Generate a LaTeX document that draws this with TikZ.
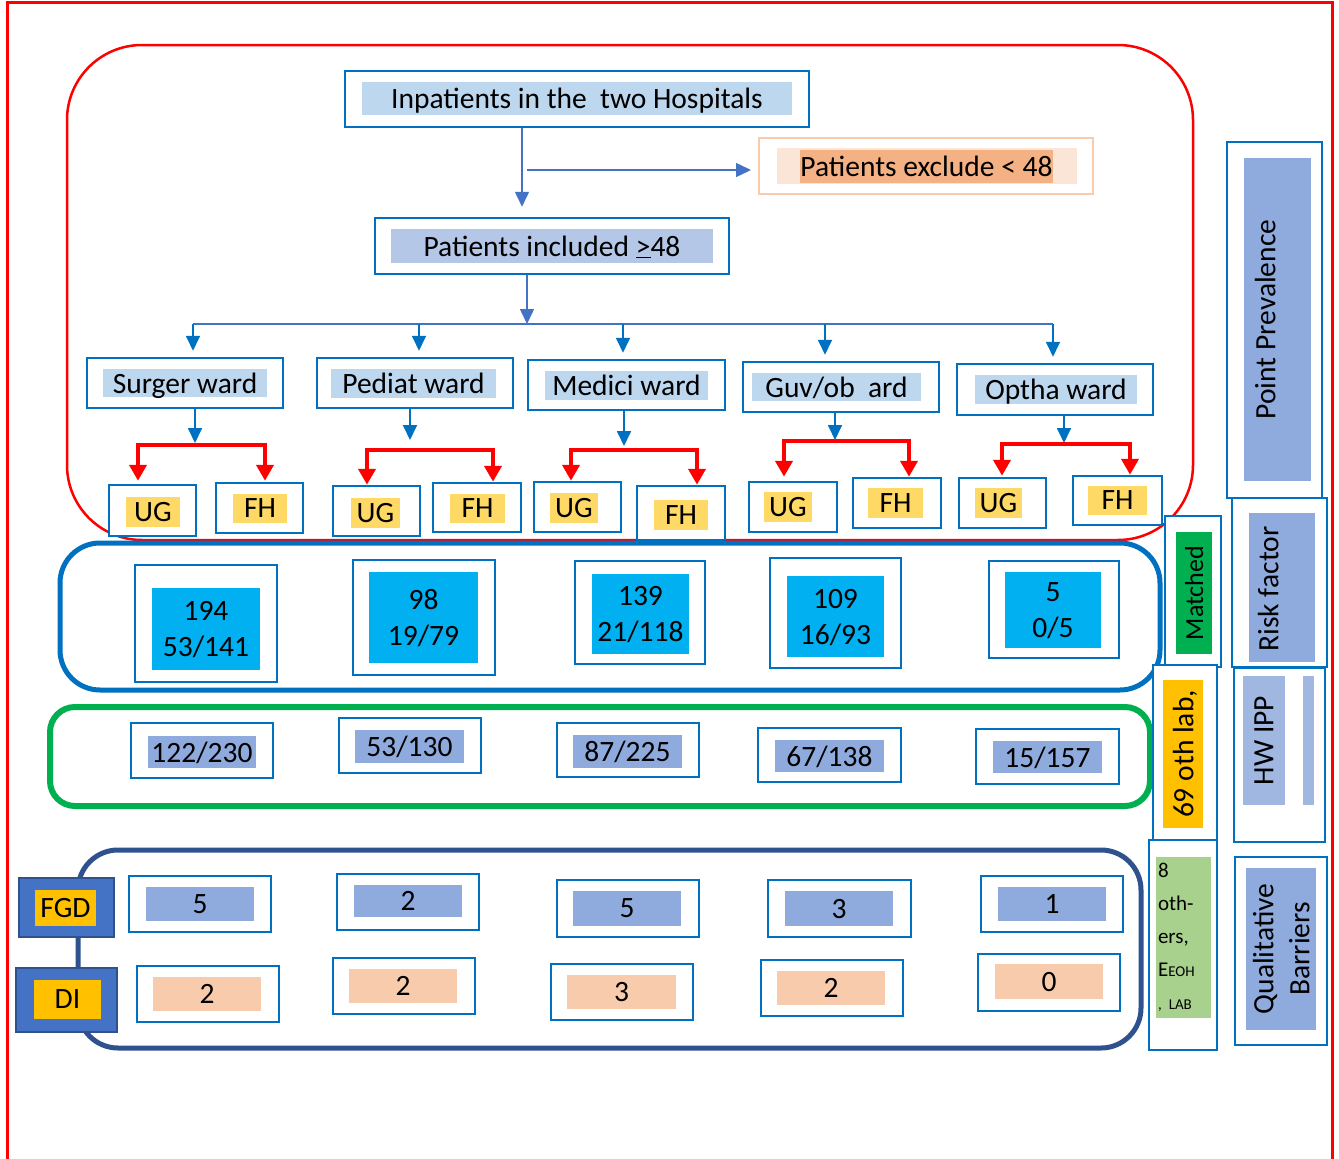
\documentclass[tikz,border=0pt]{standalone}
\usepackage{fontspec}
\setmainfont{Carlito}
\usetikzlibrary{arrows.meta}
\definecolor{boxblue}{RGB}{0,112,192}
\definecolor{arrblue}{RGB}{68,114,196}
\definecolor{lightblue}{RGB}{189,215,238}
\definecolor{midblue}{RGB}{180,199,231}
\definecolor{greyblue}{RGB}{143,170,220}
\definecolor{cyanfill}{RGB}{0,176,240}
\definecolor{gold}{RGB}{255,217,102}
\definecolor{amber}{RGB}{255,192,0}
\definecolor{peach}{RGB}{248,203,173}
\definecolor{palepeach}{RGB}{251,229,214}
\definecolor{orangehl}{RGB}{244,177,131}
\definecolor{matchgreen}{RGB}{0,176,80}
\definecolor{sage}{RGB}{169,209,142}
\definecolor{darknavy}{RGB}{47,82,143}

\begin{document}
\begin{tikzpicture}
[every node/.style={inner sep=0pt, text depth=0pt, font=\fontsize{29.5}{36}\selectfont},
 frame/.style={draw=boxblue, line width=2.5pt, fill=white},
 arr/.style={line width=1.5pt, draw=arrblue, -{Triangle[width=14pt,length=15pt]}},
 drop/.style={line width=1.8pt, draw=boxblue, -{Triangle[width=14pt,length=15pt]}},
 redarr/.style={line width=4pt, draw=red, -{Triangle[width=17pt,length=16pt]}},
 cellfill/.style={fill=greyblue},
 cellpeach/.style={fill=peach}]
\useasboundingbox (0pt, 0pt) rectangle (1339pt, -1159pt);
\fill [white] (0pt, 0pt) rectangle (1339pt, -1159pt);
% frames round the groups
\draw [red, line width=3pt] (7pt, -1159pt) -- (7pt, -2pt) -- (1332pt, -2pt) -- (1332pt, -1159pt);
\draw [red, line width=2.5pt, rounded corners=75pt] (67pt, -45pt) rectangle (1193pt, -540pt);
\draw [boxblue, line width=5pt, rounded corners=40pt] (60pt, -543pt) rectangle (1160pt, -690pt);
\draw [matchgreen, line width=6pt, rounded corners=25pt] (50pt, -707pt) rectangle (1150pt, -806pt);
\draw [darknavy, line width=5pt, rounded corners=40pt] (78pt, -850pt) rectangle (1141pt, -1048pt);

% top of the flow
\node (hosp) [frame, minimum width=464pt, minimum height=56pt] at (577pt, -99pt) {};
\node (hospfill) [fill=lightblue, minimum width=430pt, minimum height=33pt] at (577pt, -98.5pt) {Inpatients in the\ \ two Hospitals};
\node (excl) [draw=peach, line width=2pt, fill=white, minimum width=334pt, minimum height=56pt] at (926pt, -166pt) {};
\node (exclpale) [fill=palepeach, minimum width=300pt, minimum height=36pt] at (927pt, -166pt) {};
\node (excltext) [fill=orangehl, minimum width=253pt, minimum height=33pt] at (926.5pt, -166.5pt) {Patients exclude < 48};
\node (incl) [frame, minimum width=354pt, minimum height=56pt] at (552pt, -246pt) {};
\node (inclfill) [fill=midblue, minimum width=322pt, minimum height=34pt] at (552pt, -246pt) {Patients included \underline{>}48};
\coordinate (excljoin) at (527pt, -170pt);
\coordinate (split) at (527pt, -324pt);
\draw [arr] ([xshift=-55pt]hosp.south) to ([xshift=-30pt, yshift=10pt]incl.north);
\draw [arr, shorten >=7pt] (excljoin) to (excljoin -| excl.west);
\draw [arr] ([xshift=-25pt]incl.south) to (split);

% wards
\node (surg) [frame, minimum width=196pt, minimum height=50pt] at (185pt, -383pt) {};
\node (surgfill) [fill=lightblue, minimum width=164pt, minimum height=28pt] at (185pt, -383pt) {Surger ward};
\node (ped) [frame, minimum width=196pt, minimum height=50pt] at (415pt, -383pt) {};
\node (pedfill) [fill=lightblue, minimum width=165pt, minimum height=29pt] at (413.5pt, -383.5pt) {Pediat ward};
\node (med) [frame, minimum width=197pt, minimum height=50pt] at (626.5pt, -385pt) {};
\node (medfill) [fill=lightblue, minimum width=163pt, minimum height=29pt] at (626.5pt, -385.5pt) {Medici ward};
\node (guv) [frame, minimum width=196pt, minimum height=50pt] at (841pt, -387pt) {};
\node (guvfill) [fill=lightblue, minimum width=169pt, minimum height=28pt] at (836.5pt, -387pt) {Guv/ob\ \ ard};
\node (opt) [frame, minimum width=196pt, minimum height=51pt] at (1055pt, -389.5pt) {};
\node (optfill) [fill=lightblue, minimum width=162pt, minimum height=29pt] at (1056pt, -389.5pt) {Optha ward};
\coordinate (barsurg) at (193pt, -324pt);
\coordinate (barped) at (419pt, -324pt);
\coordinate (barmed) at (623pt, -324pt);
\coordinate (barguv) at (825pt, -324pt);
\coordinate (baropt) at (1053pt, -324pt);
\draw [line width=1.5pt, draw=arrblue] (barsurg) to (baropt);
\draw [drop, shorten >=6pt] (barsurg) to (barsurg |- surg.north);
\draw [drop, shorten >=6pt] (barped) to (barped |- ped.north);
\draw [drop, shorten >=6pt] (barmed) to (barmed |- med.north);
\draw [drop, shorten >=6pt] (barguv) to (barguv |- guv.north);
\draw [drop, shorten >=6pt] (baropt) to (baropt |- opt.north);

% UG and FH
\node (surgug) [frame, minimum width=87pt, minimum height=51pt] at (152.5pt, -510.5pt) {};
\node (surgugfill) [fill=gold, minimum width=54pt, minimum height=30pt] at (153pt, -512pt) {UG};
\node (surgfh) [frame, minimum width=87pt, minimum height=50pt] at (259.5pt, -508pt) {};
\node (surgfhfill) [fill=gold, minimum width=54pt, minimum height=29pt] at (260pt, -508.5pt) {FH};
\node (pedug) [frame, minimum width=87pt, minimum height=50pt] at (376.5pt, -511pt) {};
\node (pedugfill) [fill=gold, minimum width=49pt, minimum height=30pt] at (375.5pt, -513pt) {UG};
\node (pedfh) [frame, minimum width=88pt, minimum height=49pt] at (477pt, -507.5pt) {};
\node (pedfhfill) [fill=gold, minimum width=55pt, minimum height=29pt] at (477.5pt, -508.5pt) {FH};
\node (medug) [frame, minimum width=87pt, minimum height=50pt] at (577.5pt, -507pt) {};
\node (medugfill) [fill=gold, minimum width=48pt, minimum height=30pt] at (574pt, -508pt) {UG};
\node (medfh) [frame, minimum width=88pt, minimum height=54pt] at (681pt, -513pt) {};
\node (medfhfill) [fill=gold, minimum width=54pt, minimum height=30pt] at (681pt, -515pt) {FH};
\node (guvug) [frame, minimum width=88pt, minimum height=50pt] at (793pt, -507pt) {};
\node (guvugfill) [fill=gold, minimum width=48pt, minimum height=30pt] at (788pt, -507pt) {UG};
\node (guvfh) [frame, minimum width=88pt, minimum height=50pt] at (897pt, -503pt) {};
\node (guvfhfill) [fill=gold, minimum width=55pt, minimum height=30pt] at (895.5pt, -503pt) {FH};
\node (optug) [frame, minimum width=87pt, minimum height=50pt] at (1002.5pt, -503pt) {};
\node (optugfill) [fill=gold, minimum width=47pt, minimum height=30pt] at (998.5pt, -503pt) {UG};
\node (optfh) [frame, minimum width=89pt, minimum height=49pt] at (1117.5pt, -500.5pt) {};
\node (optfhfill) [fill=gold, minimum width=59pt, minimum height=29pt] at (1117.5pt, -500.5pt) {FH};
\coordinate (forksurg) at (195pt, -445pt);
\coordinate (forkped) at (410pt, -450pt);
\coordinate (forkmed) at (624pt, -450pt);
\coordinate (forkguv) at (835pt, -441pt);
\coordinate (forkopt) at (1064pt, -444pt);
\draw [drop, shorten >=2pt] (forksurg |- surg.south) to (forksurg);
\draw [drop, shorten >=10pt] (forkped |- ped.south) to (forkped);
\draw [drop, shorten >=4pt] (forkmed |- med.south) to (forkmed);
\draw [drop, shorten >=1pt] (forkguv |- guv.south) to (forkguv);
\draw [drop, shorten >=1pt] (forkopt |- opt.south) to (forkopt);
\draw [redarr, shorten >=3pt] (forksurg) -| ([xshift=-14.5pt]surgug.north);
\draw [redarr, shorten >=1pt] (forksurg) -| ([xshift=5.5pt]surgfh.north);
\draw [redarr, shorten >=0pt] (forkped) -| ([xshift=-9.5pt]pedug.north);
\draw [redarr, shorten >=0pt] (forkped) -| ([xshift=16pt]pedfh.north);
\draw [redarr, shorten >=0pt] (forkmed) -| ([xshift=-6.5pt]medug.north);
\draw [redarr, shorten >=0pt] (forkmed) -| ([xshift=16pt]medfh.north);
\draw [redarr, shorten >=4pt] (forkguv) -| ([xshift=-9pt]guvug.north);
\draw [redarr, shorten >=0pt] (forkguv) -| ([xshift=12pt]guvfh.north);
\draw [redarr, shorten >=1pt] (forkopt) -| ([xshift=-0.5pt]optug.north);
\draw [redarr, shorten >=0pt] (forkopt) -| ([xshift=12.5pt]optfh.north);

% matched row
\node (m1) [frame, minimum width=142pt, minimum height=117pt] at (206pt, -623.5pt) {};
\node (m1fill) [fill=cyanfill, minimum width=108pt, minimum height=82pt, align=center] at (206pt, -629pt) {194\\53/141};
\node (m2) [frame, minimum width=142pt, minimum height=115pt] at (424pt, -617.5pt) {};
\node (m2fill) [fill=cyanfill, minimum width=109pt, minimum height=91pt, align=center] at (423.5pt, -617.5pt) {98\\19/79};
\node (m3) [frame, minimum width=130pt, minimum height=103pt] at (640pt, -612.5pt) {};
\node (m3fill) [fill=cyanfill, minimum width=97pt, minimum height=80pt, align=center] at (640.5pt, -614pt) {139\\21/118};
\node (m4) [frame, minimum width=131pt, minimum height=110pt] at (835.5pt, -613pt) {};
\node (m4fill) [fill=cyanfill, minimum width=97pt, minimum height=81pt, align=center] at (835.5pt, -616.5pt) {109\\16/93};
\node (m5) [frame, minimum width=130pt, minimum height=97pt] at (1054pt, -609.5pt) {};
\node (m5fill) [fill=cyanfill, minimum width=96pt, minimum height=76pt, align=center] at (1053pt, -610pt) {5\\0/5};

% green row
\node (g1) [frame, minimum width=142pt, minimum height=55pt] at (202pt, -750.5pt) {};
\node (g1fill) [cellfill, minimum width=108pt, minimum height=32pt] at (202pt, -752pt) {122/230};
\node (g2) [frame, minimum width=142pt, minimum height=55pt] at (410pt, -745.5pt) {};
\node (g2fill) [cellfill, minimum width=109pt, minimum height=33pt] at (409.5pt, -746.5pt) {53/130};
\node (g3) [frame, minimum width=142pt, minimum height=54pt] at (628pt, -750pt) {};
\node (g3fill) [cellfill, minimum width=109pt, minimum height=33pt] at (627.5pt, -751.5pt) {87/225};
\node (g4) [frame, minimum width=143pt, minimum height=54pt] at (829.5pt, -755pt) {};
\node (g4fill) [cellfill, minimum width=109pt, minimum height=32pt] at (829.5pt, -756pt) {67/138};
\node (g5) [frame, minimum width=143pt, minimum height=55pt] at (1047.5pt, -756.5pt) {};
\node (g5fill) [cellfill, minimum width=109pt, minimum height=32pt] at (1047.5pt, -757pt) {15/157};

% FGD and DI rows
\node (fgd) [fill=arrblue, draw=darknavy, line width=2pt, minimum width=95pt, minimum height=59pt] at (66pt, -907.5pt) {};
\node (fgdfill) [fill=amber, minimum width=61pt, minimum height=36pt] at (65.5pt, -908pt) {FGD};
\node (di) [fill=arrblue, draw=darknavy, line width=2pt, minimum width=101pt, minimum height=64pt] at (66pt, -1000pt) {};
\node (difill) [fill=amber, minimum width=67pt, minimum height=39pt] at (67.5pt, -999.5pt) {DI};
\node (f1) [frame, minimum width=142pt, minimum height=56pt] at (200pt, -904pt) {};
\node (f1fill) [cellfill, minimum width=108pt, minimum height=34pt] at (200pt, -904pt) {5};
\node (f2) [frame, minimum width=142pt, minimum height=56pt] at (408pt, -902pt) {};
\node (f2fill) [cellfill, minimum width=108pt, minimum height=32pt] at (408pt, -901pt) {2};
\node (f3) [frame, minimum width=142pt, minimum height=57pt] at (628pt, -908.5pt) {};
\node (f3fill) [cellfill, minimum width=108pt, minimum height=35pt] at (627pt, -908.5pt) {5};
\node (f4) [frame, minimum width=143pt, minimum height=57pt] at (839.5pt, -908.5pt) {};
\node (f4fill) [cellfill, minimum width=108pt, minimum height=35pt] at (839pt, -908.5pt) {3};
\node (f5) [frame, minimum width=142pt, minimum height=56pt] at (1052pt, -904pt) {};
\node (f5fill) [cellfill, minimum width=108pt, minimum height=34pt] at (1052pt, -904pt) {1};
\node (d1) [frame, minimum width=142pt, minimum height=56pt] at (208pt, -994pt) {};
\node (d1fill) [cellpeach, minimum width=108pt, minimum height=34pt] at (207pt, -994pt) {2};
\node (d2) [frame, minimum width=142pt, minimum height=56pt] at (404pt, -986pt) {};
\node (d2fill) [cellpeach, minimum width=108pt, minimum height=34pt] at (403pt, -986pt) {2};
\node (d3) [frame, minimum width=142pt, minimum height=56pt] at (622pt, -992pt) {};
\node (d3fill) [cellpeach, minimum width=109pt, minimum height=34pt] at (621.5pt, -992pt) {3};
\node (d4) [frame, minimum width=142pt, minimum height=56pt] at (832pt, -988pt) {};
\node (d4fill) [cellpeach, minimum width=108pt, minimum height=34pt] at (831pt, -988pt) {2};
\node (d5) [frame, minimum width=142pt, minimum height=57pt] at (1049pt, -982.5pt) {};
\node (d5fill) [cellpeach, minimum width=108pt, minimum height=35pt] at (1049pt, -981.5pt) {0};

% side labels
\node (match) [frame, minimum width=56pt, minimum height=151pt] at (1193pt, -591.5pt) {};
\node (matchfill) [fill=matchgreen, rotate=90, minimum width=122pt, minimum height=36pt, font=\fontsize{26}{30}\selectfont] at (1194pt, -593pt) {Matched};
\node (lab) [frame, minimum width=64pt, minimum height=177pt] at (1185pt, -753.5pt) {};
\node (labfill) [fill=amber, rotate=90, minimum width=148pt, minimum height=40pt] at (1183pt, -754pt) {69 oth lab,};
\node (others) [frame, minimum width=68pt, minimum height=210pt] at (1183pt, -945pt) {};
\node (othersfill) [fill=sage, text depth=, minimum width=55pt, minimum height=161pt, align=left, text width=50pt, font=\fontsize{21}{33}\selectfont] at (1183pt, -937.5pt) {8\\oth-\\ers,\\E{\fontsize{15}{33}\selectfont EOH}\\{\fontsize{15}{33}\selectfont , LAB}};
\node (pp) [frame, minimum width=95pt, minimum height=356pt] at (1274.5pt, -320pt) {};
\node (ppfill) [cellfill, minimum width=67pt, minimum height=323pt] at (1277.5pt, -319.5pt) {};
\node (pptext) [rotate=90] at (1265pt, -319.5pt) {Point Prevalence};
\node (rf) [frame, minimum width=95pt, minimum height=169pt] at (1279.5pt, -582.5pt) {};
\node (rffill) [cellfill, minimum width=66pt, minimum height=149pt] at (1282pt, -587.5pt) {};
\node (rftext) [rotate=90] at (1268pt, -589pt) {Risk factor};
\node (hw) [frame, minimum width=91pt, minimum height=174pt] at (1279.5pt, -755pt) {};
\node (hwfill) [fill=greyblue!85, rotate=90, minimum width=129pt, minimum height=42pt] at (1264pt, -740.5pt) {HW IPP};
\fill [greyblue!85] (1303pt, -676pt) rectangle (1314pt, -805pt);
\node (qb) [frame, minimum width=92pt, minimum height=188pt] at (1281pt, -951pt) {};
\node (qbfill) [cellfill, rotate=90, minimum width=162pt, minimum height=70pt, align=center] at (1281pt, -949pt) {Qualitative\\Barriers};

\end{tikzpicture}
\end{document}
